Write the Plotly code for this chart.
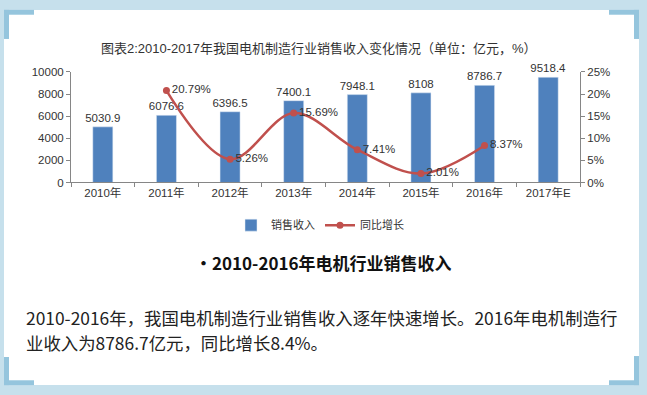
import plotly.graph_objects as go

W, H = 647, 395

categories = ["2010年", "2011年", "2012年", "2013年", "2014年", "2015年", "2016年", "2017年E"]
revenue = [5030.9, 6076.6, 6396.5, 7400.1, 7948.1, 8108, 8786.7, 9518.4]
growth_categories = ["2011年", "2012年", "2013年", "2014年", "2015年", "2016年"]
growth = [20.79, 5.26, 15.69, 7.41, 2.01, 8.37]

title_text = "图表2:2010-2017年我国电机制造行业销售收入变化情况（单位：亿元，%）"
heading_text = "•2010-2016年电机行业销售收入"
para_line1 = "2010-2016年，我国电机制造行业销售收入逐年快速增长。2016年电机制造行"
para_line2 = "业收入为8786.7亿元，同比增长8.4%。"

BLUE = "#4f81bd"
RED = "#c0504d"
AXIS = "#868686"
TXT = "#333333"
CHART_FONT = "Liberation Sans, Arial, Noto Sans CJK SC"
CJK_FONT = "Noto Sans CJK SC, Noto Sans"


def px(x):
    return x / W


def py(y):
    return 1 - y / H


fig = go.Figure()
fig.add_trace(go.Bar(
    x=categories, y=revenue, name="销售收入", marker_color=BLUE,
    text=[f"{v:g}" for v in revenue], textposition="outside", constraintext="none",
    textfont=dict(size=11.5, color=TXT, family=CHART_FONT), cliponaxis=False,
    xaxis="x", yaxis="y",
))
fig.add_trace(go.Scatter(
    x=growth_categories, y=growth, name="同比增长", mode="lines+markers+text",
    line=dict(color=RED, width=2.5, shape="spline", smoothing=1.0),
    marker=dict(color=RED, size=7),
    text=[f"{v:.2f}%" for v in growth], textposition="middle right",
    textfont=dict(size=11.5, color=TXT, family=CHART_FONT), cliponaxis=False,
    xaxis="x", yaxis="y2",
))

shapes = []
# white page
shapes.append(dict(type="rect", xref="paper", yref="paper", x0=px(4), x1=px(639), y0=py(391), y1=py(4),
                   fillcolor="white", line_width=0, layer="below"))
BR = "#95c5dd"


def rect(x0, y0, x1, y1):
    shapes.append(dict(type="rect", xref="paper", yref="paper", x0=px(x0), x1=px(x1), y0=py(y1), y1=py(y0),
                       fillcolor=BR, line_width=0, layer="above"))


# corner brackets
rect(4, 4, 34, 9); rect(4, 4, 9, 34)
rect(609, 4, 639, 9); rect(634, 4, 639, 34)
rect(4, 386, 34, 391); rect(4, 362, 9, 391)
rect(609, 386, 639, 391); rect(634, 361, 639, 391)

annotations = [
    dict(text=title_text, xref="paper", yref="paper", x=px(319), y=py(44), xanchor="center", yanchor="middle",
         showarrow=False, font=dict(size=13, color=TXT, family=CHART_FONT)),
    dict(text="<b>" + heading_text + "</b>", xref="paper", yref="paper", x=px(323), y=py(265),
         xanchor="center", yanchor="middle", showarrow=False,
         font=dict(size=17, color="#111111", family=CJK_FONT)),
    dict(text=para_line1, xref="paper", yref="paper", x=px(24), y=py(321), xanchor="left", yanchor="middle",
         showarrow=False, font=dict(size=17.4, color="#222222", family=CJK_FONT)),
    dict(text=para_line2, xref="paper", yref="paper", x=px(24), y=py(347), xanchor="left", yanchor="middle",
         showarrow=False, font=dict(size=17.4, color="#222222", family=CJK_FONT)),
]

fig.update_layout(
    width=W, height=H, margin=dict(l=0, r=0, t=0, b=0),
    paper_bgcolor="#c6e0ec", plot_bgcolor="rgba(0,0,0,0)",
    font=dict(family=CHART_FONT, size=11, color=TXT),
    showlegend=True,
    legend=dict(orientation="h", x=px(320), xanchor="center", y=py(226), yanchor="middle",
                font=dict(size=11, color=TXT, family=CHART_FONT), bgcolor="rgba(0,0,0,0)"),
    bargap=0.685,
    xaxis=dict(domain=[px(71), px(580)], type="category", showline=True, linecolor=AXIS, linewidth=1,
               ticks="outside", tickson="boundaries", ticklen=4, tickcolor=AXIS,
               tickfont=dict(size=11.5, color=TXT), showgrid=False, anchor="y"),
    yaxis=dict(domain=[py(182), py(68)], range=[0, 10000], dtick=2000, tickformat="d", showline=True,
               linecolor=AXIS, ticks="outside", ticklen=4, tickcolor=AXIS, showgrid=False, zeroline=False,
               tickfont=dict(size=11.5, color=TXT)),
    yaxis2=dict(overlaying="y", side="right", range=[0, 25], dtick=5, ticksuffix="%", showline=True,
                linecolor=AXIS, ticks="outside", ticklen=4, tickcolor=AXIS, showgrid=False, zeroline=False,
                tickfont=dict(size=11.5, color=TXT), anchor="x"),
    shapes=shapes, annotations=annotations,
)

fig.write_html("out.html", config={"displayModeBar": False},
               post_script="document.body.style.margin='0px';document.body.style.padding='0px';")
